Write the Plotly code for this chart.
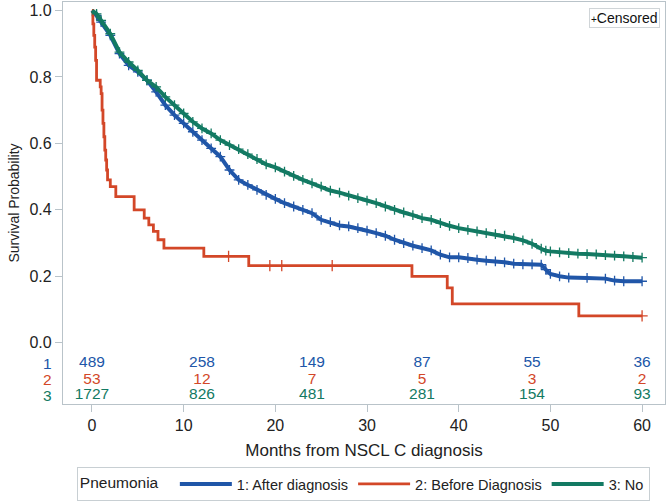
import plotly.graph_objects as go

#%% Datos (curvas Kaplan-Meier)

# 1: After diagnosis
t_after = [0, 0.5, 1, 2, 3, 4, 5, 6, 7, 8, 9, 10, 11, 12, 13, 14, 15, 16, 17,
           18, 19, 20, 21, 22, 23, 24, 25, 26, 27, 28, 29, 30, 31, 32, 33, 34,
           35, 36, 37, 38, 39, 40, 41, 42, 43, 44, 45, 46, 47, 48, 49, 49.5,
           50, 51, 52, 54, 56, 57, 58, 60]
s_after = [1.0, 0.985, 0.965, 0.925, 0.87, 0.835, 0.815, 0.79, 0.755, 0.715,
           0.685, 0.66, 0.635, 0.61, 0.585, 0.56, 0.52, 0.49, 0.475, 0.46,
           0.445, 0.433, 0.42, 0.41, 0.40, 0.39, 0.37, 0.363, 0.353, 0.35,
           0.345, 0.337, 0.33, 0.322, 0.31, 0.30, 0.292, 0.285, 0.278, 0.265,
           0.257, 0.257, 0.255, 0.25, 0.247, 0.245, 0.242, 0.238, 0.236,
           0.236, 0.235, 0.22, 0.207, 0.20, 0.196, 0.195, 0.193, 0.187,
           0.185, 0.185]

# 2: Before Diagnosis
t_before = [0, 0.1, 0.2, 0.3, 0.4, 0.5, 0.9, 1.0, 1.1, 1.2, 1.3, 1.4, 1.5,
            1.6, 1.7, 2.0, 2.6, 4.6, 5.7, 6.2, 6.7, 7.2, 7.85, 12.2, 17.1,
            34.9, 38.75, 39.3, 53.1, 60]
s_before = [1.0, 0.96, 0.925, 0.89, 0.85, 0.79, 0.77, 0.75, 0.70, 0.66, 0.62,
            0.58, 0.55, 0.52, 0.49, 0.47, 0.44, 0.40, 0.375, 0.355, 0.335,
            0.31, 0.285, 0.26, 0.232, 0.20, 0.165, 0.117, 0.081, 0.081]
t_before_cens = [14.9, 19.4, 20.7, 26.2, 60]
s_before_cens = [0.26, 0.232, 0.232, 0.232, 0.081]

# 3: No
t_no = [0, 0.5, 1, 2, 3, 4, 5, 6, 7, 8, 9, 10, 11, 12, 13, 14, 15, 16, 17,
        18, 19, 20, 21, 22, 23, 24, 25, 26, 27, 28, 29, 30, 31, 32, 33, 34,
        35, 36, 37, 38, 39, 40, 41, 42, 43, 44, 45, 46, 47, 48, 49, 49.5,
        50, 51, 52, 53, 54, 55, 56, 57, 58, 59, 60]
s_no = [1.0, 0.99, 0.97, 0.93, 0.875, 0.845, 0.82, 0.79, 0.77, 0.74, 0.715,
        0.69, 0.665, 0.645, 0.63, 0.61, 0.595, 0.583, 0.568, 0.553, 0.537,
        0.528, 0.515, 0.502, 0.49, 0.48, 0.47, 0.458, 0.452, 0.443, 0.435,
        0.428, 0.42, 0.41, 0.40, 0.392, 0.384, 0.375, 0.37, 0.36, 0.352,
        0.345, 0.34, 0.335, 0.33, 0.327, 0.322, 0.315, 0.308, 0.298, 0.283,
        0.277, 0.275, 0.272, 0.27, 0.268, 0.267, 0.266, 0.264, 0.262, 0.26,
        0.258, 0.256]

# Numero en riesgo
t_riesgo = [0, 12, 24, 36, 48, 60]
n_after = [489, 258, 149, 87, 55, 36]
n_before = [53, 12, 7, 5, 3, 2]
n_no = [1727, 826, 481, 281, 154, 93]

grupos = ["1: After diagnosis", "2: Before Diagnosis", "3: No"]
colores = ["#2056a8", "#d34728", "#137a63"]

fuente = "Liberation Sans, Arial, sans-serif"

#%% Grafico
fig = go.Figure()

curvas = [(t_after, s_after), (t_before, s_before), (t_no, s_no)]
for (t, s), nombre, color in zip(curvas, grupos, colores):
    escalon = nombre == grupos[1]
    fig.add_trace(go.Scatter(
        x=t, y=s, mode="lines", name=nombre,
        line=dict(color=color, width=2.8 if escalon else 4,
                  shape="hv" if escalon else "linear")
    ))
    if not escalon:
        # marcas de censura densas sobre la curva
        fig.add_trace(go.Scatter(
            x=t[1:], y=s[1:], mode="markers", showlegend=False,
            marker=dict(symbol="cross-thin", size=7,
                        line=dict(color=color, width=1.3)),
            hoverinfo="skip"
        ))

fig.add_trace(go.Scatter(
    x=t_before_cens, y=s_before_cens, mode="markers", showlegend=False,
    marker=dict(symbol="cross-thin", size=8,
                line=dict(color=colores[1], width=1.3)),
    hoverinfo="skip"
))

# Tabla de numero en riesgo dentro del marco
filas_y = [-0.062, -0.112, -0.159]
for i, (n, color) in enumerate(zip([n_after, n_before, n_no], colores)):
    fig.add_trace(go.Scatter(
        x=t_riesgo, y=[filas_y[i]] * len(t_riesgo), mode="text",
        text=[str(v) for v in n], showlegend=False, cliponaxis=False,
        textfont=dict(family=fuente, size=15.5, color=color),
        hoverinfo="skip"
    ))
    fig.add_annotation(
        x=-0.025, xref="paper", y=filas_y[i], yref="y", text=str(i + 1),
        showarrow=False, xanchor="center",
        font=dict(family=fuente, size=15.5, color=color)
    )

# Caja de censurados
fig.add_annotation(
    x=0.9917, xref="paper", y=0.985, yref="paper", xanchor="right",
    yanchor="top", showarrow=False,
    text="<span style='font-size:10px'>+</span>Censored",
    font=dict(family=fuente, size=14, color="#111"),
    bordercolor="#d0d5d8", borderwidth=1, borderpad=1, bgcolor="white"
)

color_eje = "#b9c3c9"
fig.update_layout(
    width=668, height=503,
    margin=dict(l=63, r=3, t=2, b=99, autoexpand=False),
    plot_bgcolor="white", paper_bgcolor="white",
    font=dict(family=fuente, color="#222"),
    xaxis=dict(
        range=[-3.16, 62.5], tickvals=[0, 10, 20, 30, 40, 50, 60],
        showgrid=False, zeroline=False, showline=True, mirror=True,
        linecolor=color_eje, linewidth=1.3, ticks="outside", ticklen=7,
        tickcolor=color_eje, tickfont=dict(size=16), automargin=False,
        title=dict(text="Months from NSCL C diagnosis",
                   font=dict(size=17), standoff=10)
    ),
    yaxis=dict(
        range=[-0.1844, 1.0256], tickvals=[0, 0.2, 0.4, 0.6, 0.8, 1.0],
        tickformat=".1f", showgrid=False, zeroline=False, showline=True,
        mirror=True, linecolor=color_eje, linewidth=1.3, ticks="outside",
        ticklen=7, tickcolor=color_eje, tickfont=dict(size=16),
        automargin=False,
        title=dict(text="Survival Probability", font=dict(size=14),
                   standoff=6)
    ),
    legend=dict(
        orientation="h", xref="container", x=0.115, xanchor="left",
        yref="container", y=0.004, yanchor="bottom",
        bordercolor="#c8cfd3", borderwidth=1, bgcolor="white",
        title=dict(text="Pneumonia  ", font=dict(size=15.5), side="left"),
        font=dict(size=14.5), itemwidth=52, tracegroupgap=0
    )
)

# quitar el margen por defecto de la pagina
fig.write_html("out.html", config={"displayModeBar": False},
               post_script="document.body.style.margin='0px';")
